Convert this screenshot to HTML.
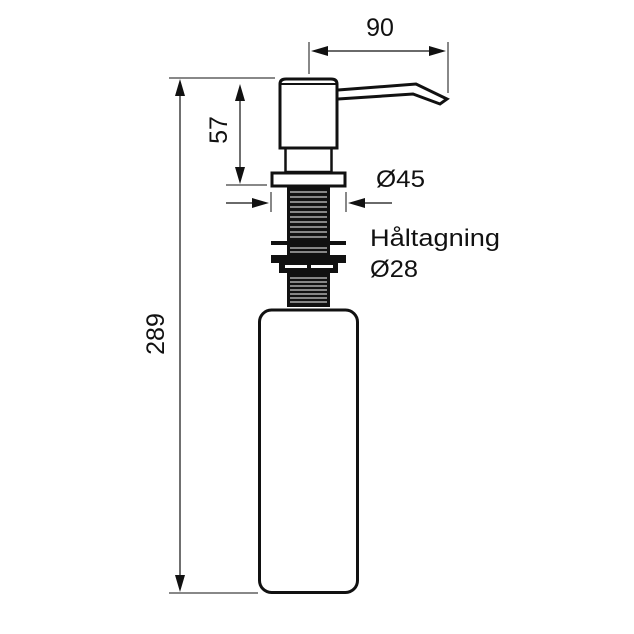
<!DOCTYPE html>
<html><head><meta charset="utf-8"><style>html,body{margin:0;padding:0;background:#fff}svg{display:block}</style></head>
<body>
<svg width="634" height="634" viewBox="0 0 634 634" xmlns="http://www.w3.org/2000/svg" font-family="Liberation Sans, Arial, sans-serif" fill="none" stroke="#111">
<!-- dimension 289 -->
<line x1="169" y1="78" x2="275" y2="78" stroke-width="1"/>
<line x1="169" y1="593" x2="258" y2="593" stroke-width="1"/>
<line x1="180" y1="90" x2="180" y2="580" stroke-width="1.2"/>
<path d="M180,79 L175,96 L185,96 z M180,592 L175,575 L185,575 z" fill="#111" stroke="none"/>
<text transform="translate(164,334) rotate(-90)" font-size="25" fill="#111" stroke="none" text-anchor="middle">289</text>
<!-- dimension 57 -->
<line x1="226" y1="185" x2="267" y2="185" stroke-width="1"/>
<line x1="240" y1="98" x2="240" y2="172" stroke-width="1.2"/>
<path d="M240,84 L235,101 L245,101 z M240,184 L235,167 L245,167 z" fill="#111" stroke="none"/>
<text transform="translate(227,130) rotate(-90)" font-size="25" fill="#111" stroke="none" text-anchor="middle">57</text>
<!-- dimension 90 -->
<line x1="309" y1="42" x2="309" y2="74" stroke-width="1"/>
<line x1="448" y1="42" x2="448" y2="93" stroke-width="1"/>
<line x1="322" y1="51" x2="435" y2="51" stroke-width="1.2"/>
<path d="M311,51 L328,46 L328,56 z M446,51 L429,46 L429,56 z" fill="#111" stroke="none"/>
<text x="380" y="36" font-size="25" fill="#111" stroke="none" text-anchor="middle">90</text>
<!-- Ø45 -->
<line x1="271" y1="192" x2="271" y2="212" stroke-width="1"/>
<line x1="346" y1="192" x2="346" y2="212" stroke-width="1"/>
<line x1="226" y1="203" x2="256" y2="203" stroke-width="1.2"/>
<line x1="362" y1="203" x2="392" y2="203" stroke-width="1.2"/>
<path d="M269,203 L252,198 L252,208 z M348,203 L365,198 L365,208 z" fill="#111" stroke="none"/>
<text x="376" y="187" font-size="24" fill="#111" stroke="none" textLength="49" lengthAdjust="spacingAndGlyphs">Ø45</text>
<text x="370" y="246" font-size="24" fill="#111" stroke="none" textLength="130" lengthAdjust="spacingAndGlyphs">Håltagning</text>
<text x="370" y="277" font-size="24" fill="#111" stroke="none" textLength="48" lengthAdjust="spacingAndGlyphs">Ø28</text>
<!-- spout -->
<path d="M338,90 L416,84 L447,99 L440,104 L413,94 L338,99" stroke-width="3" stroke-linejoin="miter"/>
<!-- cap -->
<path d="M280,148 L280,84 Q280,79 286,79 L331,79 Q337,79 337,84 L337,148 Z" stroke-width="3"/>
<line x1="280" y1="84" x2="337" y2="84" stroke-width="2"/>
<!-- neck -->
<rect x="285.5" y="148" width="46" height="24" stroke-width="2.5"/>
<!-- flange -->
<rect x="272" y="173" width="73" height="13" stroke-width="3"/>
<!-- threads -->
<rect x="287" y="187" width="43" height="120" fill="#111" stroke="none"/>
<g stroke="#ccc" stroke-width="1.3">
<line x1="290" y1="192" x2="327" y2="192"/><line x1="290" y1="197" x2="327" y2="197"/><line x1="290" y1="202" x2="327" y2="202"/><line x1="290" y1="207" x2="327" y2="207"/><line x1="290" y1="212" x2="327" y2="212"/><line x1="290" y1="217" x2="327" y2="217"/><line x1="290" y1="222" x2="327" y2="222"/><line x1="290" y1="227" x2="327" y2="227"/><line x1="290" y1="232" x2="327" y2="232"/><line x1="290" y1="237" x2="327" y2="237"/><line x1="290" y1="248" x2="327" y2="248"/><line x1="290" y1="252" x2="327" y2="252"/>
<line x1="290" y1="278" x2="327" y2="278"/><line x1="290" y1="282" x2="327" y2="282"/><line x1="290" y1="286" x2="327" y2="286"/><line x1="290" y1="290" x2="327" y2="290"/><line x1="290" y1="294" x2="327" y2="294"/><line x1="290" y1="298" x2="327" y2="298"/><line x1="290" y1="302" x2="327" y2="302"/>
</g>
<!-- washer -->
<rect x="271" y="241" width="75" height="4" fill="#111" stroke="none"/>
<!-- nut -->
<rect x="271" y="255" width="75" height="8" fill="#111" stroke="none"/>
<rect x="279" y="262" width="59" height="11" fill="#111" stroke="none"/>
<rect x="285" y="265" width="22" height="3" fill="#fff" stroke="none"/>
<rect x="311" y="265" width="22" height="3" fill="#fff" stroke="none"/>
<!-- bottle -->
<rect x="259.5" y="310" width="98" height="282.5" rx="12" stroke-width="3"/>
</svg>
</body></html>
